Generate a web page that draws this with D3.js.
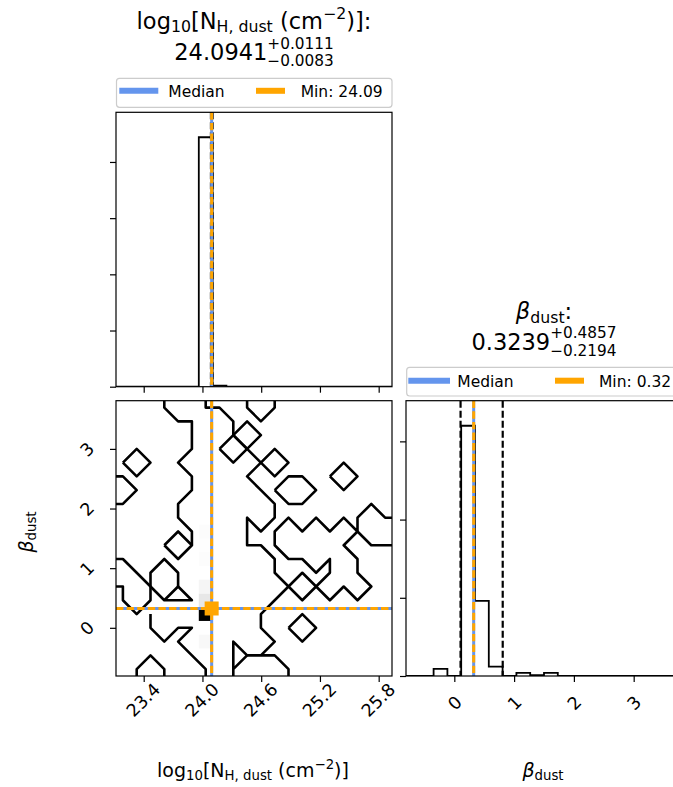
<!DOCTYPE html>
<html><head><meta charset="utf-8">
<script src="https://cdn.jsdelivr.net/npm/d3@7"></script>
<style>
body{margin:0;background:#fff;}
svg{display:block;font-family:"DejaVu Sans",sans-serif;}
</style></head><body>
<svg id="chart" width="673" height="787"></svg>
<script>
// ---------------- DATA ----------------
const nhRange = [23.117, 25.936];
const betaRange = [-0.808, 3.808];
const nhCounts   = [0,0,0,0,0,0,444,2,0,0,0,0,0,0,0,0,0,0,0,0];
const betaCounts = [0,0,9,0,320,96,12,0,4,1,4,0,0,0,0,0,0,0,0,0];
const nhTicks = [23.4, 24.0, 24.6, 25.2, 25.8];
const betaTicks = [0, 1, 2, 3];
const nhCountTicks = [0, 100, 200, 300, 400];
const betaCountTicks = [0, 100, 200, 300];
const nhStats = {median: 24.0941, lo: 0.0083, hi: 0.0111, min: 24.094};
const betaStats = {median: 0.3239, lo: 0.2194, hi: 0.4857, min: 0.324};
// 2D histogram cells: [nh bin, beta bin, count]
const density2d = [[6,2,9],[6,4,320],[6,5,30],[6,6,12],[6,8,4],[6,9,1],[6,10,4]];
// contour lines, vertices in [nh bin index, beta bin index] (bin centres)
const contourPaths = [
  [[3,19.5],[3,19],[4,18],[5,18],[5,16],[4,15],[5,14],[5,13],[4,12],[4,11],[5,10],[5,9]],
  [[3,9],[4,10],[5,9],[4,8],[3,9]],
  [[0,15],[1,16],[2,15],[1,14],[0,15]],
  [[-0.5,14],[0,14],[1,13],[0,12],[-0.5,12]],
  [[6,19.5],[6,19],[7,19],[8,18],[8,17]],
  [[7,16],[8,17],[9,16],[8,15],[7,16]],
  [[8,17],[9,18],[10,17],[9,16],[8,17]],
  [[9,19.5],[9,19],[10,18],[11,19],[11,19.5]],
  [[9,16],[10,15],[9,14],[10,13],[11,12],[11,11],[10,10],[9,11],[9,9],[10,9],[11,8],[11,7],[12,6],[13,5],[14,6],[15,5],[16,6],[17,5],[18,6],[17,7],[17,8],[16,9],[17,10],[18,9],[19.5,9]],
  [[10,15],[11,16],[12,15],[11,14],[10,15]],
  [[15,14],[16,15],[17,14],[16,13],[15,14]],
  [[11,13],[12,14],[13,14],[14,13],[13,12],[12,12],[11,13]],
  [[19.5,11],[19,11],[18,12],[17,11],[17,10],[16,11],[15,10],[14,11],[13,10],[12,11],[11,10],[11,9],[12,8],[13,8],[14,7],[15,8],[15,7],[14,6],[13,7],[12,6],[11,5],[10,4],[10,3],[11,2],[10,1]],
  [[9,1],[11,1],[12,0],[12,-0.5]],
  [[8,-0.5],[8,2],[9,1],[8,0]],
  [[12,3],[13,4],[14,3],[13,2],[12,3]],
  [[-0.5,8],[0,8],[1,7],[2,6],[3,5],[5,5],[4,6],[3,5]],
  [[4,6],[4,7],[3,8],[2,7],[2,5],[1,4],[0,5],[0,6],[-0.5,6]],
  [[2,4],[2,3],[3,2],[4,3],[5,3],[4,2],[5,1],[6,0],[6,-0.5]],
  [[1,-0.5],[1,0],[2,1],[3,0],[3,-0.5]]
];
const legendLabels1 = ["Median", "Min: 24.09"];
const legendLabels2 = ["Median", "Min: 0.32"];

// ---------------- LAYOUT ----------------
const svg = d3.select("#chart");
const BLUE = "#6495ED", ORANGE = "#FFA500";
const P1 = {x0:116, x1:392, y0:112.3, y1:386.7};
const P2 = {x0:116, x1:392, y0:400.7, y1:676};
const P3 = {x0:406, x1:682, y0:400.7, y1:676};
const nB = nhCounts.length;
const TICKFS = 17.5;

const xN = d3.scaleLinear().domain(nhRange).range([P1.x0, P1.x1]);
const yH1 = d3.scaleLinear().domain([0, 1.1*d3.max(nhCounts)]).range([P1.y1, P1.y0]);
const yB = d3.scaleLinear().domain(betaRange).range([P2.y1, P2.y0]);
const xB = d3.scaleLinear().domain(betaRange).range([P3.x0, P3.x1]);
const yH2 = d3.scaleLinear().domain([0, 1.1*d3.max(betaCounts)]).range([P3.y1, P3.y0]);

const nhW = (nhRange[1]-nhRange[0])/nB, bW = (betaRange[1]-betaRange[0])/nB;
const nhCentre = i => nhRange[0] + (i+0.5)*nhW;
const bCentre = j => betaRange[0] + (j+0.5)*bW;

const defs = svg.append("defs");
function clip(id, P){ defs.append("clipPath").attr("id",id).append("rect")
  .attr("x",P.x0).attr("y",P.y0).attr("width",P.x1-P.x0).attr("height",P.y1-P.y0); }
clip("c1",P1); clip("c2",P2); clip("c3",P3);

function stepPoints(counts, range){
  const w=(range[1]-range[0])/counts.length, pts=[[range[0],0]];
  counts.forEach((c,i)=>{pts.push([range[0]+i*w,c]); pts.push([range[0]+(i+1)*w,c]);});
  pts.push([range[1],0]); return pts;
}
function styleAxis(g){
  g.select(".domain").remove();
  g.selectAll(".tick line").attr("stroke","#000").attr("stroke-width",1.2);
  g.selectAll(".tick text").attr("fill","#000").attr("font-size",TICKFS).attr("font-family","DejaVu Sans");
}
function vline(g, xs, v, P, color, w, dash){
  g.append("line").attr("x1",xs(v)).attr("x2",xs(v)).attr("y1",P.y0).attr("y2",P.y1)
   .attr("stroke",color).attr("stroke-width",w).attr("stroke-dasharray",dash||null);
}
function hline(g, ys, v, P, color, w, dash){
  g.append("line").attr("y1",ys(v)).attr("y2",ys(v)).attr("x1",P.x0).attr("x2",P.x1)
   .attr("stroke",color).attr("stroke-width",w).attr("stroke-dasharray",dash||null);
}
const DASH = "7.4,3.2";

// ---- Panel 1: NH histogram ----
const g1 = svg.append("g").attr("clip-path","url(#c1)");
g1.append("path").datum(stepPoints(nhCounts, nhRange))
  .attr("d", d3.line().x(d=>xN(d[0])).y(d=>yH1(d[1])))
  .attr("fill","none").attr("stroke","#000").attr("stroke-width",1.8);
vline(g1, xN, nhStats.median-nhStats.lo, P1, "#000", 2, "7,3");
vline(g1, xN, nhStats.median+nhStats.hi, P1, "#000", 2, "7,3");
vline(g1, xN, nhStats.median, P1, BLUE, 3);
vline(g1, xN, nhStats.min, P1, ORANGE, 3, DASH);
svg.append("g").attr("transform",`translate(0,${P1.y1})`)
  .call(d3.axisBottom(xN).tickValues(nhTicks).tickSize(6).tickFormat("")).call(styleAxis);
svg.append("g").attr("transform",`translate(${P1.x0},0)`)
  .call(d3.axisLeft(yH1).tickValues(nhCountTicks).tickSize(6).tickFormat("")).call(styleAxis);

// ---- Panel 2: 2D ----
const g2 = svg.append("g").attr("clip-path","url(#c2)");
const maxD = d3.max(density2d, d=>d[2]);
const grey = d3.scaleLinear().domain([0,maxD]).range(["#ffffff","#000000"]);
g2.selectAll("rect.cell").data(density2d).join("rect").attr("class","cell")
  .attr("x", d=>xN(nhRange[0]+d[0]*nhW)).attr("width", d=>xN(nhRange[0]+(d[0]+1)*nhW)-xN(nhRange[0]+d[0]*nhW))
  .attr("y", d=>yB(betaRange[0]+(d[1]+1)*bW)).attr("height", d=>yB(betaRange[0]+d[1]*bW)-yB(betaRange[0]+(d[1]+1)*bW))
  .attr("fill", d=>grey(d[2]));
const cline = d3.line().x(d=>xN(nhCentre(d[0]))).y(d=>yB(bCentre(d[1])));
g2.selectAll("path.ct").data(contourPaths).join("path").attr("class","ct")
  .attr("d", cline).attr("fill","none").attr("stroke","#000").attr("stroke-width",2.6)
  .attr("stroke-linejoin","round");
vline(g2, xN, nhStats.median, P2, BLUE, 3);
vline(g2, xN, nhStats.min, P2, ORANGE, 3, DASH);
hline(g2, yB, betaStats.median, P2, BLUE, 3);
hline(g2, yB, betaStats.min, P2, ORANGE, 3, DASH);
g2.append("rect").attr("x",xN(nhStats.min)-7).attr("y",yB(betaStats.min)-7)
  .attr("width",14).attr("height",14).attr("fill",ORANGE);
const ax2x = svg.append("g").attr("transform",`translate(0,${P2.y1})`)
  .call(d3.axisBottom(xN).tickValues(nhTicks).tickSize(6).tickFormat(d3.format(".1f"))).call(styleAxis);
ax2x.selectAll(".tick text").attr("y",0).attr("dy","0.35em").attr("text-anchor","middle")
  .attr("transform","translate(-1,24) rotate(-45)");
const ax2y = svg.append("g").attr("transform",`translate(${P2.x0},0)`)
  .call(d3.axisLeft(yB).tickValues(betaTicks).tickSize(6).tickFormat(d3.format("d"))).call(styleAxis);
ax2y.selectAll(".tick text").attr("x",0).attr("dy","0.35em").attr("text-anchor","middle")
  .attr("transform","translate(-29,0) rotate(-45)");

// ---- Panel 3: beta histogram ----
const g3 = svg.append("g").attr("clip-path","url(#c3)");
g3.append("path").datum(stepPoints(betaCounts, betaRange))
  .attr("d", d3.line().x(d=>xB(d[0])).y(d=>yH2(d[1])))
  .attr("fill","none").attr("stroke","#000").attr("stroke-width",1.8);
vline(g3, xB, betaStats.median-betaStats.lo, P3, "#000", 2.2, "7,3");
vline(g3, xB, betaStats.median+betaStats.hi, P3, "#000", 2.2, "7,3");
vline(g3, xB, betaStats.median, P3, BLUE, 3);
vline(g3, xB, betaStats.min, P3, ORANGE, 3, DASH);
const ax3x = svg.append("g").attr("transform",`translate(0,${P3.y1})`)
  .call(d3.axisBottom(xB).tickValues(betaTicks).tickSize(6).tickFormat(d3.format("d"))).call(styleAxis);
ax3x.selectAll(".tick text").attr("y",0).attr("dy","0.35em").attr("text-anchor","middle")
  .attr("transform","translate(0,27) rotate(-45)");
svg.append("g").attr("transform",`translate(${P3.x0},0)`)
  .call(d3.axisLeft(yH2).tickValues(betaCountTicks).tickSize(6).tickFormat("")).call(styleAxis);

// borders
[P1,P2,P3].forEach(P=>svg.append("rect").attr("x",P.x0).attr("y",P.y0)
  .attr("width",P.x1-P.x0).attr("height",P.y1-P.y0).attr("fill","none")
  .attr("stroke","#000").attr("stroke-width",1.2));

// ---------------- TEXT ----------------
function mathText(parent, runs, fs){
  const g = parent.append("g");
  let x = 0;
  runs.forEach(r=>{
    if (r.sup !== undefined){
      const s = fs*0.68;
      const a = g.append("text").attr("font-size",s).text(r.sup);
      const b = g.append("text").attr("font-size",s).text(r.sub);
      const w = Math.max(a.node().getComputedTextLength(), b.node().getComputedTextLength());
      a.attr("x",x).attr("y",-0.5*fs); b.attr("x",x).attr("y",0.28*fs);
      x += w;
    } else {
      const s = fs*(r.s||1);
      const t = g.append("text").attr("font-size",s).attr("x",x).attr("y",-(r.sh||0)*fs)
        .attr("font-style", r.it ? "italic":null).text(r.t);
      x += t.node().getComputedTextLength();
    }
  });
  g.attr("data-w", x);
  return g;
}
function place(g, cx, by, rot){
  const w = +g.attr("data-w");
  if (rot) g.attr("transform",`translate(${cx},${by}) rotate(-90) translate(${-w/2},0)`);
  else g.attr("transform",`translate(${cx-w/2},${by})`);
}
const nhLabelRuns = [{t:"log"},{t:"10",s:0.7,sh:-0.16},{t:"[N"},{t:"H,\u00A0dust",s:0.7,sh:-0.16},
  {t:"\u00A0(cm"},{t:"\u22122",s:0.7,sh:0.42},{t:")]"}];
const betaLabelRuns = [{t:"\u03B2",it:true},{t:"dust",s:0.7,sh:-0.16}];

const TFS = 22.5, LFS = 19;
place(mathText(svg, nhLabelRuns.concat([{t:":"}]), TFS), 254, 28.5);
place(mathText(svg, [{t:"24.0941"},{sup:"+0.0111", sub:"\u22120.0083"}], TFS), 254, 60);
place(mathText(svg, betaLabelRuns.concat([{t:":"}]), TFS), 544, 319);
place(mathText(svg, [{t:"0.3239"},{sup:"+0.4857", sub:"\u22120.2194"}], TFS), 544, 349.5);

place(mathText(svg, nhLabelRuns, LFS), 253, 777);
place(mathText(svg, betaLabelRuns, LFS), 543, 777);
place(mathText(svg, betaLabelRuns, LFS), 33, 532, true);

// ---------------- LEGENDS ----------------
function legend(L, labels){
  const g = svg.append("g");
  g.append("rect").attr("x",L.x).attr("y",L.y).attr("width",L.w).attr("height",L.h).attr("rx",3)
    .attr("fill","#fff").attr("stroke","#cccccc").attr("stroke-width",1.2);
  g.append("line").attr("x1",L.b0).attr("x2",L.b1).attr("y1",L.cy).attr("y2",L.cy)
    .attr("stroke",BLUE).attr("stroke-width",6);
  g.append("line").attr("x1",L.o0).attr("x2",L.o1).attr("y1",L.cy).attr("y2",L.cy)
    .attr("stroke",ORANGE).attr("stroke-width",6);
  g.append("text").attr("x",L.t0).attr("y",L.cy+6).attr("font-size",15.5).text(labels[0]);
  g.append("text").attr("x",L.t1).attr("y",L.cy+6).attr("font-size",15.5).text(labels[1]);
}
legend({x:116.5,y:78.3,w:275.5,h:29,cy:90.8,b0:119.3,b1:158.3,o0:256,o1:285,t0:168.3,t1:300.7}, legendLabels1);
legend({x:406.7,y:367.3,w:290,h:28.7,cy:380.7,b0:408.3,b1:450,o0:555,o1:584,t0:457.3,t1:599}, legendLabels2);
</script>
</body></html>
